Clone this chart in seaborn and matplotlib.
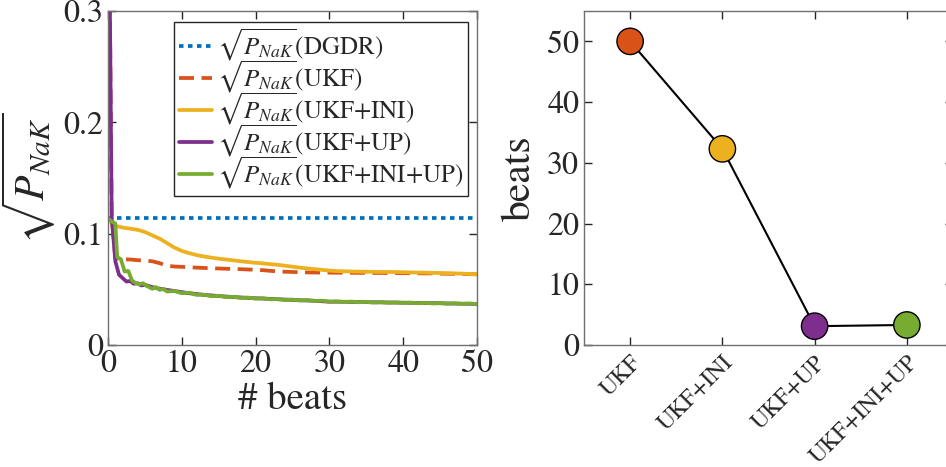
import numpy as np
import pandas as pd
import matplotlib
matplotlib.use('Agg')
import matplotlib.pyplot as plt
import seaborn as sns

# left panel: sqrt(P_NaK) vs beats
beats_dgdr = [0, 50]
p_dgdr = [0.1145, 0.1145]

beats_ukf = [0, 0.5, 1.0] + list(range(2, 51))
p_ukf = [0.5, 0.115, 0.078,
         0.077, 0.0768, 0.0762, 0.0758, 0.0752, 0.0735, 0.0712, 0.0705, 0.0702,
         0.0698, 0.0695, 0.0692, 0.069, 0.0687, 0.0685, 0.0683, 0.0681, 0.0678,
         0.0676, 0.0672, 0.0666, 0.0661, 0.0658, 0.0656, 0.0654, 0.0652, 0.0651,
         0.065, 0.065, 0.0649, 0.0649, 0.0648, 0.0648, 0.0648, 0.0647, 0.0647,
         0.0646, 0.0646, 0.0645, 0.0645, 0.0644, 0.0643, 0.0643, 0.0641, 0.064,
         0.0639, 0.0638, 0.0636, 0.0635]

beats_ini = list(range(0, 51))
p_ini = [0.1125, 0.107, 0.1055, 0.1045, 0.1035, 0.1015, 0.0985, 0.0955, 0.0915,
         0.0875, 0.0845, 0.0825, 0.0808, 0.0795, 0.0785, 0.0775, 0.0768, 0.076,
         0.0752, 0.0745, 0.0738, 0.0733, 0.0726, 0.072, 0.0712, 0.0703, 0.0695,
         0.0688, 0.0681, 0.0675, 0.0668, 0.0664, 0.0662, 0.066, 0.0659, 0.0658,
         0.0657, 0.0656, 0.0656, 0.0655, 0.0654, 0.0652, 0.0651, 0.065, 0.0648,
         0.0647, 0.0645, 0.0643, 0.0641, 0.0638, 0.0636]

beats_up = [0, 0.5, 1, 1.5, 2, 2.5, 3, 3.5, 4, 4.5, 5] + list(range(6, 51))
p_up = [0.5, 0.115, 0.075, 0.063, 0.06, 0.057, 0.0575, 0.055, 0.0555, 0.0535,
        0.054, 0.052, 0.0505, 0.0495, 0.0485, 0.0475, 0.0465, 0.0458, 0.045,
        0.0445, 0.044, 0.0435, 0.0431, 0.0427, 0.0423, 0.042, 0.0417, 0.0414,
        0.0411, 0.0408, 0.0405, 0.0402, 0.04, 0.0397, 0.0393, 0.0389, 0.0389,
        0.0388, 0.0387, 0.0386, 0.0385, 0.0384, 0.0383, 0.0382, 0.0381, 0.038,
        0.0379, 0.0378, 0.0377, 0.0376, 0.0375, 0.0373, 0.0372, 0.0371, 0.037,
        0.0368]

beats_iniup = [0, 0.5, 1, 1.25, 1.75, 2.25, 2.75, 3.25, 3.75, 4.25, 4.75, 5.25,
               6, 6.5, 7, 7.5, 8] + list(range(9, 51))
p_iniup = [0.1135, 0.111, 0.109, 0.079, 0.077, 0.066, 0.0665, 0.058, 0.0555,
           0.0545, 0.0555, 0.053, 0.0505, 0.052, 0.0495, 0.0505, 0.048,
           0.0485, 0.0465, 0.047, 0.045, 0.0452, 0.0438, 0.0442, 0.043, 0.0433,
           0.0422, 0.0426, 0.0416, 0.042, 0.041, 0.0413, 0.0404, 0.0408, 0.04,
           0.0403, 0.0395, 0.0398, 0.0389, 0.0392, 0.0386, 0.039, 0.0384, 0.0387,
           0.0381, 0.0385, 0.0379, 0.0383, 0.0377, 0.0381, 0.0375, 0.0379,
           0.0373, 0.0377, 0.0371, 0.0375, 0.0369, 0.0373, 0.0368]

# right panel: beats needed
methods = ['UKF', 'UKF+INI', 'UKF+UP', 'UKF+INI+UP']
beats_needed = [50, 32.3, 3.1, 3.3]

c_blue = '#0072BD'
c_red = '#D95319'
c_yel = '#EDB120'
c_pur = '#7E2F8E'
c_grn = '#77AC30'

sq = r'$\sqrt{P_{NaK}}$'
names = [sq + '(DGDR)', sq + '(UKF)', sq + '(UKF+INI)', sq + '(UKF+UP)', sq + '(UKF+INI+UP)']
xs = [beats_dgdr, beats_ukf, beats_ini, beats_up, beats_iniup]
ys = [p_dgdr, p_ukf, p_ini, p_up, p_iniup]
df = pd.concat([pd.DataFrame({'beat': x, 'val': y, 'series': n})
                for x, y, n in zip(xs, ys, names)], ignore_index=True)

sns.set_style('ticks')
plt.rcParams['font.family'] = ['STIXGeneral', 'DejaVu Serif']
plt.rcParams['mathtext.fontset'] = 'stix'
plt.rcParams['axes.edgecolor'] = '#707070'
plt.rcParams['xtick.color'] = '#262626'
plt.rcParams['ytick.color'] = '#262626'
plt.rcParams['text.color'] = '#262626'
plt.rcParams['axes.labelcolor'] = '#262626'

fig = plt.figure(figsize=(9.46, 4.67), dpi=100)
ax1 = fig.add_axes([108/946, 1-345/467, 369/946, 334/467])
ax2 = fig.add_axes([584/946, 1-345/467, 369/946, 334/467])

palette = dict(zip(names, [c_blue, c_red, c_yel, c_pur, c_grn]))
dashes = dict(zip(names, [(1.2, 1.2), (4, 2), '', '', '']))
sns.lineplot(data=df, x='beat', y='val', hue='series', style='series',
             palette=palette, dashes=dashes, linewidth=2.7, estimator=None,
             sort=False, ax=ax1)
handles, labels = ax1.get_legend_handles_labels()
ax1.legend(handles, labels, loc='upper right', bbox_to_anchor=(0.976, 0.967),
           borderaxespad=0, fontsize=18, frameon=True, fancybox=False,
           edgecolor='#262626', framealpha=1, handlelength=1.3,
           handletextpad=0.2, labelspacing=-0.18, borderpad=0.2)
ax1.get_legend().get_frame().set_linewidth(1.0)

ax1.set_xlim(0, 50)
ax1.set_ylim(0, 0.3)
ax1.set_xticks([0, 10, 20, 30, 40, 50])
ax1.set_yticks([0, 0.1, 0.2, 0.3])
ax1.set_yticklabels(['0', '0.1', '0.2', '0.3'])
ax1.set_xlabel('# beats', fontsize=28, labelpad=2)
ax1.set_ylabel(sq, fontsize=30, labelpad=4)
ax1.tick_params(direction='in', length=6, width=1, labelsize=23, top=True, right=True)

sns.lineplot(x=methods, y=beats_needed, color='black', linewidth=1.5, sort=False, ax=ax2)
sns.scatterplot(x=methods, y=beats_needed, hue=methods,
                palette=[c_red, c_yel, c_pur, c_grn], s=360, edgecolor='black',
                linewidth=1, legend=False, zorder=3, ax=ax2)
ax2.set_xlim(-0.5, 3.5)
ax2.set_ylim(0, 55)
ax2.set_yticks([0, 10, 20, 30, 40, 50])
ax2.set_ylabel('beats', fontsize=30, labelpad=6)
ax2.set_xlabel('')
ax2.tick_params(direction='in', length=6, width=1, top=True, right=True)
ax2.tick_params(axis='y', labelsize=23)
ax2.tick_params(axis='x', labelsize=17, pad=5)
for t in ax2.get_xticklabels():
    t.set_rotation(45)
    t.set_ha('right')
    t.set_rotation_mode('anchor')

for ax in (ax1, ax2):
    for s in ax.spines.values():
        s.set_linewidth(1.0)

fig.savefig('out.png', dpi=100)
